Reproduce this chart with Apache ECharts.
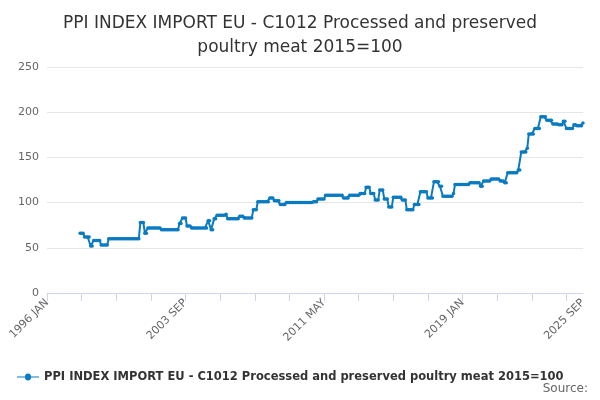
<!DOCTYPE html>
<html>
<head>
<meta charset="utf-8">
<script src="https://cdn.jsdelivr.net/npm/echarts@6/dist/echarts.min.js"></script>
<style>html,body{margin:0;padding:0;background:#fff}#chart{width:600px;height:400px}</style>
</head>
<body>
<div id="chart"></div>
<script>
var monthNames = ["JAN","FEB","MAR","APR","MAY","JUN","JUL","AUG","SEP","OCT","NOV","DEC"];
var startYear = 1996, monthCount = 357;
// readings: month index (0 = 1996 JAN) and value
var readMonths = [22,25,29,31,36,41,60,62,65,67,75,76,86,88,90,93,96,105,107,109,111,113,119,120,128,131,137,140,148,151,155,159,168,177,180,185,197,201,208,212,215,218,221,224,227,230,236,239,244,248,253,257,261,263,270,271,281,288,290,295,301,304,306,313,315,319,320,323,324,327,328,332,336,340,343,345,348,350,352,356];
var readValues = [66,62,52,58,53,60,60,78,66,72,72,70,70,77,83,74,72,72,80,70,82,86,87,82,85,83,92,101,105,102,98,100,100,101,104,108,105,108,110,117,110,103,114,104,95,106,103,92,98,112,105,123,118,107,110,120,122,118,124,126,124,122,133,136,156,160,176,176,182,182,195,191,187,186,190,182,182,186,185,188];

var categories = [];
for (var i = 0; i < monthCount; i++) {
	categories.push((startYear + Math.floor(i / 12)) + " " + monthNames[i % 12]);
}
// hold each reading until the next one
var values = [];
var k = -1;
for (var i = 0; i < monthCount; i++) {
	while (k + 1 < readMonths.length && readMonths[k + 1] <= i) k++;
	values.push(k < 0 || i > readMonths[readMonths.length - 1] ? null : readValues[k]);
}

var chart = echarts.init(document.getElementById("chart"));
chart.setOption({
	animation: false,
	title: {
		text: "PPI INDEX IMPORT EU - C1012 Processed and preserved\npoultry meat 2015=100",
		left: "center",
		top: 7,
		textStyle: {color: "#333", fontSize: 17, fontWeight: "normal", lineHeight: 24, fontFamily: "DejaVu Sans"}
	},
	grid: {left: 47, right: 17, top: 67, bottom: 107},
	legend: {
		left: 12, top: 366,
		itemWidth: 22, itemHeight: 8,
		textStyle: {color: "#333", fontSize: 11.5, fontWeight: "bold", fontFamily: "DejaVu Sans"},
		data: [{name: "PPI INDEX IMPORT EU - C1012 Processed and preserved poultry meat 2015=100", icon: "path://M0,4L8,4A3,3,0,1,1,14,4L22,4L22,5L14,5A3,3,0,1,1,8,5L0,5Z"}]
	},
	graphic: [{type: "text", right: 12, top: 383, style: {text: "Source:", fill: "#666", font: "12px DejaVu Sans"}}],
	xAxis: {
		type: "category",
		data: categories,
		boundaryGap: false,
		axisLine: {lineStyle: {color: "#ccd6eb"}},
		axisTick: {interval: function (i) { return i % 23 === 0; }, length: 8, lineStyle: {color: "#ccd6eb"}},
		axisLabel: {
			interval: function (i) { return i % 92 === 0 || i === monthCount - 1; },
			rotate: 45, color: "#666", fontSize: 11, fontFamily: "DejaVu Sans"
		}
	},
	yAxis: {
		type: "value",
		min: 0, max: 250, interval: 50,
		axisLine: {show: false},
		axisTick: {show: false},
		axisLabel: {color: "#666", fontSize: 11, fontFamily: "DejaVu Sans"},
		splitLine: {lineStyle: {color: "#e6e6e6"}}
	},
	series: [{
		name: "PPI INDEX IMPORT EU - C1012 Processed and preserved poultry meat 2015=100",
		type: "line",
		data: values,
		color: "#0a7bc2",
		symbol: "circle",
		symbolSize: 3.5,
		showAllSymbol: true,
		lineStyle: {width: 2}
	}]
});
</script>
</body>
</html>
